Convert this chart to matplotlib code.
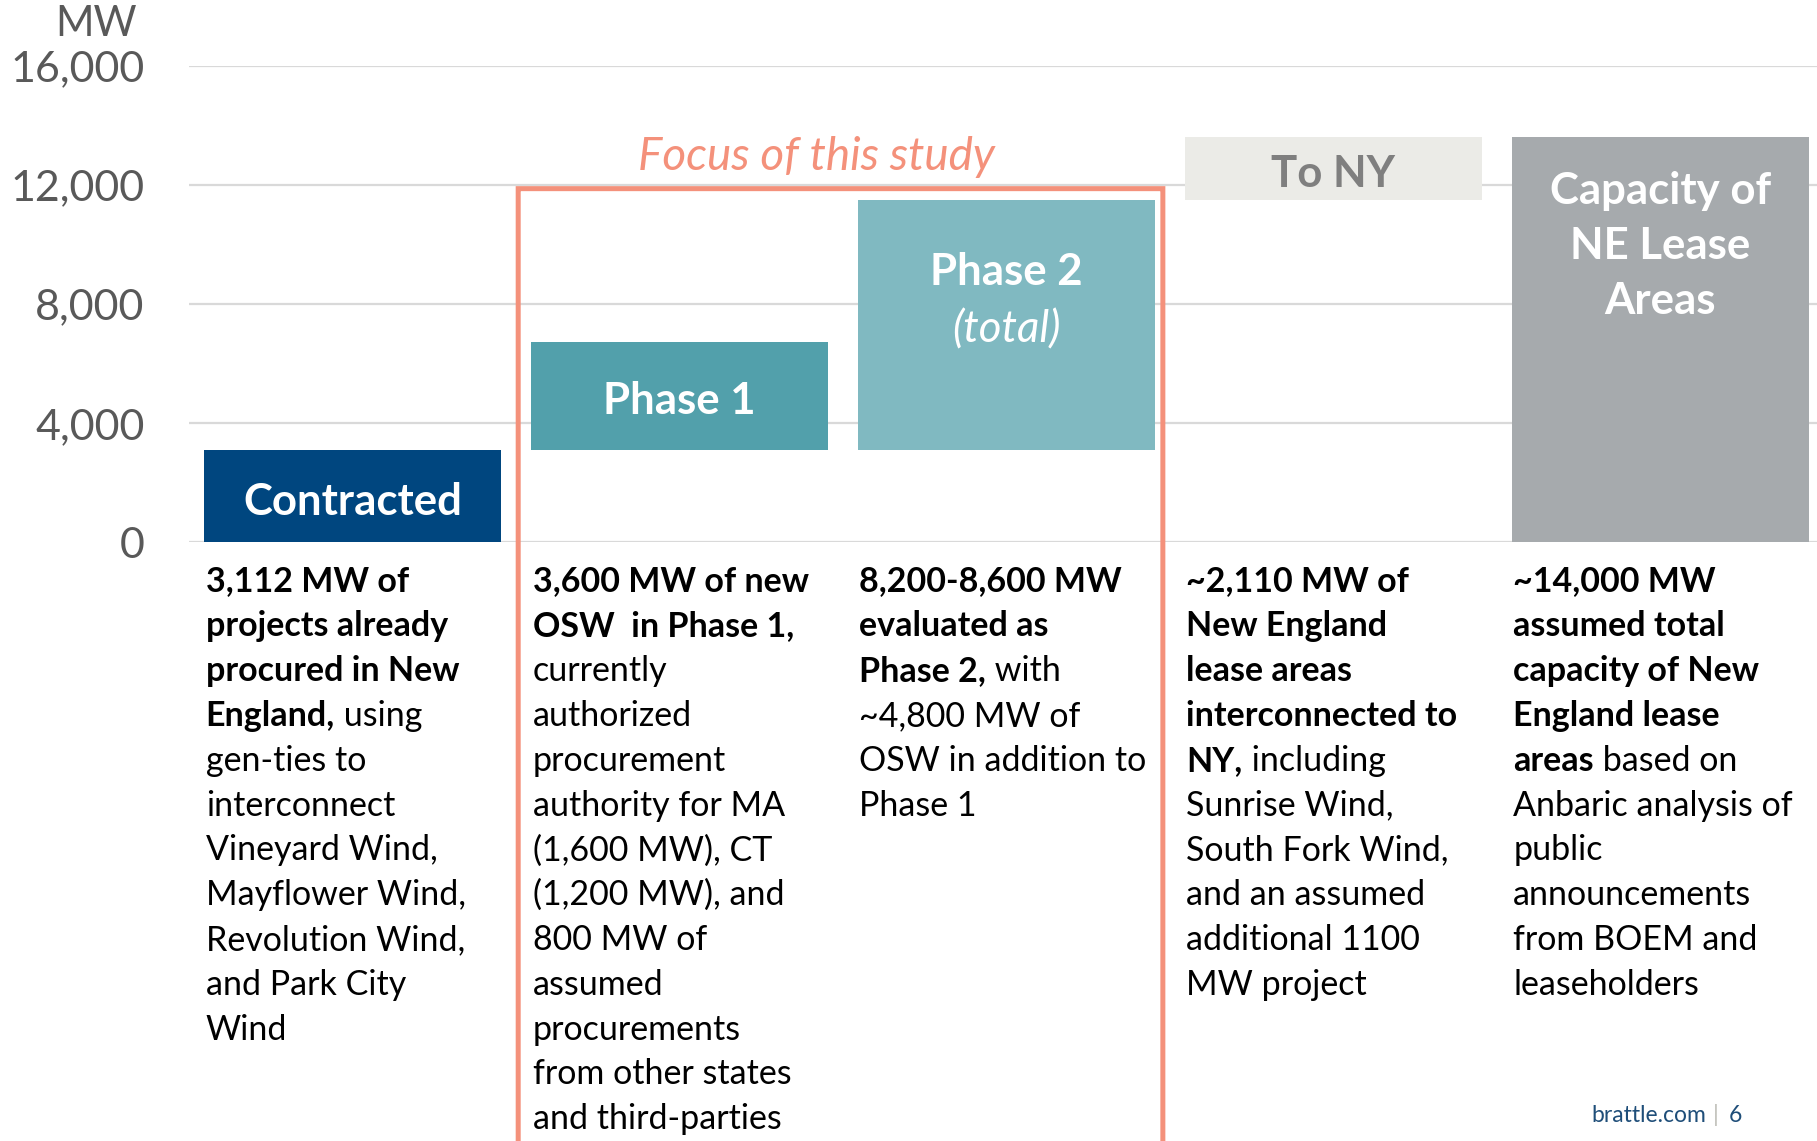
import matplotlib
matplotlib.use("Agg")
import matplotlib.pyplot as plt
from matplotlib import transforms
from matplotlib.patches import FancyBboxPatch

FONT = "Lato"
plt.rcParams['font.family'] = [FONT, 'DejaVu Sans']

# ---------------- data ----------------
categories = ["Contracted", "Phase 1", "Phase 2", "To NY", "Capacity of NE Lease Areas"]
bar_heights = [3112, 3600, 8400, 2110, 13622]
bar_bottoms = [0, 3112, 3112, 11512, 0]
bar_colors = ["#00467f", "#52a0ab", "#80b9c1", "#ebebe7", "#a6aaad"]
bar_labels = ["Contracted", "Phase 1", "Phase 2", "To NY", "Capacity of\nNE Lease\nAreas"]
yticks = [0, 4000, 8000, 12000, 16000]
ytick_labels = ["0", "4,000", "8,000", "12,000", "16,000"]

# description lines: (bold part, regular part)
descriptions = [
    [("3,112 MW of", ""), ("projects already", ""), ("procured in New", ""),
     ("England,", " using"), ("", "gen-ties to"), ("", "interconnect"),
     ("", "Vineyard Wind,"), ("", "Mayflower Wind,"), ("", "Revolution Wind,"),
     ("", "and Park City"), ("", "Wind")],
    [("3,600 MW of new", ""), ("OSW  in Phase 1,", ""), ("", "currently"),
     ("", "authorized"), ("", "procurement"), ("", "authority for MA"),
     ("", "(1,600 MW), CT"), ("", "(1,200 MW), and"), ("", "800 MW of"),
     ("", "assumed"), ("", "procurements"), ("", "from other states"),
     ("", "and third-parties")],
    [("8,200-8,600 MW", ""), ("evaluated as", ""), ("Phase 2,", " with"),
     ("", "~4,800 MW of"), ("", "OSW in addition to"), ("", "Phase 1")],
    [("~2,110 MW of", ""), ("New England", ""), ("lease areas", ""),
     ("interconnected to", ""), ("NY,", " including"), ("", "Sunrise Wind,"),
     ("", "South Fork Wind,"), ("", "and an assumed"), ("", "additional 1100"),
     ("", "MW project")],
    [("~14,000 MW", ""), ("assumed total", ""), ("capacity of New", ""),
     ("England lease", ""), ("areas", " based on"), ("", "Anbaric analysis of"),
     ("", "public"), ("", "announcements"), ("", "from BOEM and"),
     ("", "leaseholders")],
]

W, H = 1817, 1141
fig = plt.figure(figsize=(W / 100, H / 100), dpi=100)
ax = fig.add_axes([189 / W, 1 - 542.3 / H, 1 - 189 / W, (542.3 - 66) / H])

x = list(range(len(categories)))
width = 0.908
ax.bar(x, bar_heights, bottom=bar_bottoms, width=width, color=bar_colors, zorder=3)

ax.set_xlim(-0.5, 4.48)
ax.set_ylim(0, 16000)
ax.set_yticks(yticks)
ax.set_yticklabels(ytick_labels)
ax.set_xticks([])
ax.tick_params(axis='y', length=0, pad=32, labelsize=31, labelcolor="#595959")
ax.grid(axis='y', color="#d9d9d9", linewidth=1.6, zorder=0)
for s in ax.spines.values():
    s.set_visible(False)

fig.text(137 / W, 1 - 24 / H, "MW", ha="right", va="center", fontsize=30, color="#595959")

# bar labels
LFS = 31.5
ax.text(0, 1340, bar_labels[0], ha="center", va="center", color="white",
        fontsize=LFS, fontweight="bold", zorder=4)
ax.text(1, 4740, bar_labels[1], ha="center", va="center", color="white",
        fontsize=LFS, fontweight="bold", zorder=4)
ax.text(2.0, 9080, bar_labels[2], ha="center", va="center", color="white",
        fontsize=LFS, fontweight="bold", zorder=4)
ax.text(2.0, 7120, "(total)", ha="center", va="center", color="white",
        fontsize=LFS, style="italic", zorder=4)
ax.text(3, 12370, bar_labels[3], ha="center", va="center", color="#7f7f7f",
        fontsize=LFS, fontweight="bold", zorder=4)
ax.text(4, 9960, bar_labels[4], ha="center", va="center", color="white",
        fontsize=LFS, fontweight="bold", linespacing=1.45, zorder=4)

# focus box
box = FancyBboxPatch((0.507, -40000), 2.479 - 0.507, 11880 + 40000,
                     boxstyle="round,pad=0,rounding_size=0.01",
                     fill=False, edgecolor="#f4917b", linewidth=3.6,
                     transform=ax.transData, clip_on=False, zorder=5)
ax.add_patch(box)
ax.text(1.42, 12950, "Focus of this study", ha="center", va="center",
        color="#f4917b", fontsize=33, style="italic", zorder=5)

# descriptions
trans = transforms.blended_transform_factory(ax.transData, fig.transFigure)
y0 = 581.5
step = 44.8
fs = 24.5
for ci, lines in enumerate(descriptions):
    xl = ci - width / 2 + 0.005
    for li, (b, r) in enumerate(lines):
        yy = 1 - (y0 + li * step) / H
        if b:
            tb = ax.text(xl, yy, b, transform=trans, ha="left", va="center",
                         fontsize=fs, fontweight="bold", color="black", clip_on=False)
            if r:
                ax.annotate(r, xy=(1, 0), xycoords=tb, ha="left", va="bottom",
                            fontsize=fs, color="black", annotation_clip=False)
        else:
            ax.text(xl, yy, r, transform=trans, ha="left", va="center",
                    fontsize=fs, color="black", clip_on=False)

# footer
fig.text(1706 / W, 1 - 1115 / H, "brattle.com", ha="right", va="center",
         fontsize=16.5, color="#1f4e79")
fig.text(1716 / W, 1 - 1115 / H, "|", ha="center", va="center",
         fontsize=16.5, color="#bfbfb8")
fig.text(1729 / W, 1 - 1115 / H, "6", ha="left", va="center",
         fontsize=16.5, color="#1f4e79")

fig.savefig("out.png", dpi=100)
